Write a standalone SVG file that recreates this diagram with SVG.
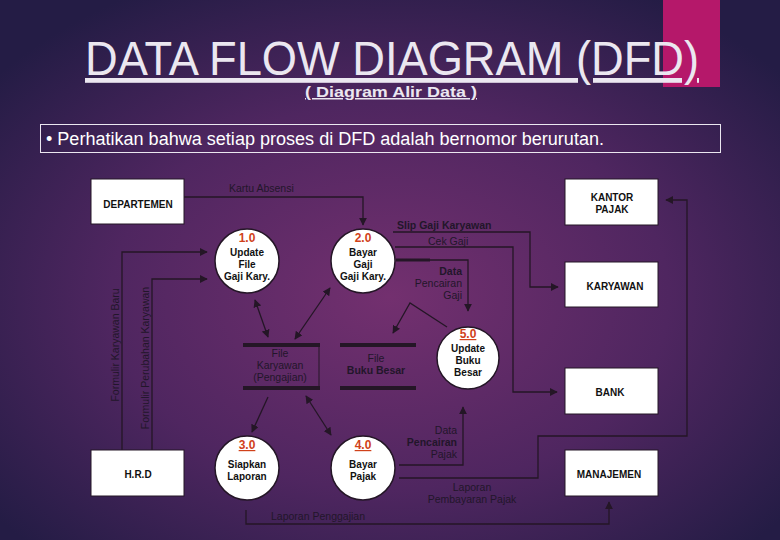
<svg xmlns="http://www.w3.org/2000/svg" width="780" height="540" viewBox="0 0 780 540">
<defs>
<radialGradient id="bg" cx="0.5" cy="0.55" r="0.65">
<stop offset="0" stop-color="#73306f"/>
<stop offset="0.55" stop-color="#4f2660"/>
<stop offset="1" stop-color="#241c45"/>
</radialGradient>
<marker id="ah" viewBox="0 0 10 10" refX="9" refY="5" markerWidth="8" markerHeight="8" orient="auto-start-reverse" markerUnits="userSpaceOnUse">
<path d="M0,0 L10,5 L0,10 Z" fill="#241626"/>
</marker>
<style>
text{font-family:"Liberation Sans",Arial,sans-serif}
.box{fill:#fff;stroke:#241626;stroke-width:1}
.bt{font-size:10px;font-weight:bold;fill:#111;text-anchor:middle}
.circ{fill:#fff;stroke:#241626;stroke-width:1.5}
.num{font-size:12px;font-weight:bold;fill:#d0411a;text-anchor:middle}
.ct{font-size:10px;font-weight:bold;fill:#111;text-anchor:middle}
.ln{fill:none;stroke:#241626;stroke-width:1.3}
.lbl{font-size:10.5px;fill:#22162a}
.st{stroke:#241626;stroke-width:4}
.stt{font-size:10.5px;fill:#22162a;text-anchor:middle}
</style>
</defs>
<rect width="780" height="540" fill="url(#bg)"/>
<rect x="663" y="0" width="57" height="87" fill="#b5186a"/>
<text x="392" y="75" font-size="48" fill="#ebe7f0" text-anchor="middle" textLength="614" lengthAdjust="spacingAndGlyphs" text-decoration="underline">DATA FLOW DIAGRAM (DFD)</text>
<text x="391" y="97" font-size="15" font-weight="bold" fill="#ebe7f0" text-anchor="middle" text-decoration="underline" textLength="172" lengthAdjust="spacingAndGlyphs">( Diagram Alir Data )</text>
<rect x="40.5" y="124.5" width="680" height="28" fill="none" stroke="#ebe7f0" stroke-width="1"/>
<text x="46" y="145" font-size="18" fill="#fff" textLength="558" lengthAdjust="spacingAndGlyphs">• Perhatikan bahwa setiap proses di DFD adalah bernomor berurutan.</text>

<g id="connectors">
<path class="ln" d="M184,197 H363 V225" marker-end="url(#ah)"/>
<text class="lbl" x="229" y="192">Kartu Absensi</text>
<path class="ln" d="M393,232 H530 V287 H558" marker-end="url(#ah)"/>
<text class="lbl" x="397" y="229" font-weight="bold">Slip Gaji Karyawan</text>
<path class="ln" d="M395,247 H513 V392 H557" marker-end="url(#ah)"/>
<text class="lbl" x="428" y="245">Cek Gaji</text>
<path class="ln" d="M396,260 H468 V311" marker-end="url(#ah)"/>
<line x1="396" y1="260" x2="430" y2="260" stroke="#241626" stroke-width="3"/>
<text class="lbl" x="462" y="275" text-anchor="end" font-weight="bold">Data</text>
<text class="lbl" x="462" y="287" text-anchor="end">Pencairan</text>
<text class="lbl" x="462" y="299" text-anchor="end">Gaji</text>
<path class="ln" d="M447,327 L410,303 L393,333" marker-end="url(#ah)"/>
<line class="ln" x1="255" y1="300" x2="268" y2="337" marker-start="url(#ah)" marker-end="url(#ah)"/>
<line class="ln" x1="330" y1="288" x2="295" y2="339" marker-start="url(#ah)" marker-end="url(#ah)"/>
<line class="ln" x1="268" y1="397" x2="252" y2="432" marker-end="url(#ah)"/>
<line class="ln" x1="306" y1="396" x2="331" y2="435" marker-start="url(#ah)" marker-end="url(#ah)"/>
<path class="ln" d="M399,465 H463 V407" marker-end="url(#ah)"/>
<text class="lbl" x="457" y="434" text-anchor="end">Data</text>
<text class="lbl" x="457" y="446" text-anchor="end" font-weight="bold">Pencairan</text>
<text class="lbl" x="457" y="458" text-anchor="end">Pajak</text>
<path class="ln" d="M399,478 H538 V436 H687 V200 H666" marker-end="url(#ah)"/>
<text class="lbl" x="472" y="491" text-anchor="middle">Laporan</text>
<text class="lbl" x="472" y="503" text-anchor="middle">Pembayaran Pajak</text>
<path class="ln" d="M246,510 V524 H609 V502" marker-end="url(#ah)"/>
<text class="lbl" x="318" y="520" text-anchor="middle">Laporan Penggajian</text>
<path class="ln" d="M122,450 V252 H207" marker-end="url(#ah)"/>
<text class="lbl" transform="translate(119,345) rotate(-90)" text-anchor="middle">Formulir Karyawan Baru</text>
<path class="ln" d="M152,450 V279 H207" marker-end="url(#ah)"/>
<text class="lbl" transform="translate(149,358) rotate(-90)" text-anchor="middle">Formulir Perubahan Karyawan</text>
</g>

<g id="departemen"><rect class="box" x="91" y="179" width="93" height="45"/><text class="bt" x="138" y="208">DEPARTEMEN</text></g>
<g id="kantor-pajak"><rect class="box" x="565" y="179" width="93" height="46"/><text class="bt" x="612" y="201">KANTOR</text><text class="bt" x="612" y="213">PAJAK</text></g>
<g id="karyawan"><rect class="box" x="565" y="262" width="93" height="45"/><text class="bt" x="615" y="290" font-weight="normal">KARYAWAN</text></g>
<g id="bank"><rect class="box" x="565" y="368" width="93" height="46"/><text class="bt" x="610" y="396">BANK</text></g>
<g id="manajemen"><rect class="box" x="565" y="450" width="93" height="46"/><text class="bt" x="609" y="478" font-weight="normal">MANAJEMEN</text></g>
<g id="hrd"><rect class="box" x="91" y="450" width="93" height="46"/><text class="bt" x="138" y="478">H.R.D</text></g>

<g id="p1"><circle class="circ" cx="247" cy="261" r="32"/><text class="num" x="247" y="242">1.0</text><text class="ct" x="247" y="256">Update</text><text class="ct" x="247" y="268">File</text><text class="ct" x="247" y="280">Gaji Kary.</text></g>
<g id="p2"><circle class="circ" cx="363" cy="261" r="32"/><text class="num" x="363" y="242">2.0</text><text class="ct" x="363" y="256">Bayar</text><text class="ct" x="363" y="268">Gaji</text><text class="ct" x="363" y="280">Gaji Kary.</text></g>
<g id="p5"><circle class="circ" cx="468" cy="358" r="31"/><text class="num" x="468" y="338" text-decoration="underline">5.0</text><text class="ct" x="468" y="352">Update</text><text class="ct" x="468" y="364">Buku</text><text class="ct" x="468" y="376">Besar</text></g>
<g id="p3"><circle class="circ" cx="247" cy="468" r="32"/><text class="num" x="247" y="449" text-decoration="underline">3.0</text><text class="ct" x="247" y="468">Siapkan</text><text class="ct" x="247" y="480">Laporan</text></g>
<g id="p4"><circle class="circ" cx="363" cy="468" r="32"/><text class="num" x="363" y="449" text-decoration="underline">4.0</text><text class="ct" x="363" y="468">Bayar</text><text class="ct" x="363" y="480">Pajak</text></g>

<g id="file-karyawan"><line class="st" x1="243" y1="345" x2="320" y2="345"/><line class="st" x1="243" y1="388" x2="320" y2="388"/><line x1="319" y1="345" x2="319" y2="388" stroke="#241626" stroke-width="1"/><text class="stt" x="280" y="357">File</text><text class="stt" x="280" y="369">Karyawan</text><text class="stt" x="280" y="381">(Pengajian)</text></g>
<g id="file-buku-besar"><line class="st" x1="340" y1="345" x2="416" y2="345"/><line class="st" x1="340" y1="388" x2="416" y2="388"/><text class="stt" x="376" y="362">File</text><text class="stt" x="376" y="374" font-weight="bold">Buku Besar</text></g>
</svg>
